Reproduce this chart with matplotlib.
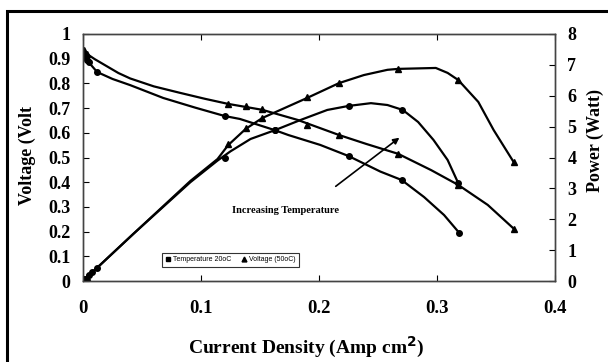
import numpy as np
import matplotlib
matplotlib.use("Agg")
import matplotlib.pyplot as plt
from matplotlib.patches import Rectangle

# voltage 20oC - traced line and data points
v20_line_x = [0.0, 0.004, 0.012, 0.025, 0.04, 0.068, 0.095, 0.12, 0.133, 0.163, 0.174, 0.201, 0.225, 0.252, 0.27, 0.289, 0.306, 0.319]
v20_line_y = [0.91, 0.89, 0.846, 0.818, 0.793, 0.741, 0.702, 0.668, 0.656, 0.61, 0.591, 0.551, 0.506, 0.443, 0.409, 0.34, 0.267, 0.194]
v20_x = [0.001, 0.003, 0.005, 0.012, 0.12, 0.163, 0.225, 0.27, 0.319]
v20_y = [0.91, 0.895, 0.885, 0.846, 0.668, 0.61, 0.506, 0.409, 0.194]

# voltage 50oC
v50_line_x = [0.0, 0.01, 0.02, 0.03, 0.04, 0.06, 0.082, 0.103, 0.123, 0.152, 0.182, 0.217, 0.24, 0.267, 0.295, 0.318, 0.343, 0.365]
v50_line_y = [0.93, 0.898, 0.87, 0.842, 0.82, 0.788, 0.762, 0.738, 0.717, 0.693, 0.652, 0.591, 0.555, 0.515, 0.449, 0.389, 0.308, 0.212]
v50_x = [0.001, 0.003, 0.123, 0.138, 0.152, 0.19, 0.217, 0.267, 0.318, 0.365]
v50_y = [0.935, 0.92, 0.717, 0.708, 0.695, 0.632, 0.591, 0.515, 0.39, 0.212]

# power 20oC
p20_line_x = [0.0, 0.0425, 0.091, 0.114, 0.125, 0.142, 0.163, 0.184, 0.207, 0.225, 0.244, 0.258, 0.271, 0.284, 0.297, 0.309, 0.318]
p20_line_y = [0.0, 1.52, 3.2, 3.9, 4.2, 4.6, 4.89, 5.21, 5.54, 5.67, 5.76, 5.70, 5.54, 5.15, 4.57, 3.92, 3.17]
p20_x = [0.002, 0.005, 0.008, 0.012, 0.12, 0.163, 0.225, 0.27, 0.318]
p20_y = [0.08, 0.18, 0.28, 0.42, 4.0, 4.89, 5.67, 5.54, 3.17]

# power 50oC
p50_line_x = [0.0, 0.0425, 0.091, 0.114, 0.123, 0.138, 0.152, 0.19, 0.217, 0.238, 0.258, 0.267, 0.299, 0.309, 0.318, 0.335, 0.348, 0.365]
p50_line_y = [0.0, 1.52, 3.24, 3.95, 4.4, 4.93, 5.28, 5.93, 6.41, 6.67, 6.84, 6.87, 6.9, 6.74, 6.51, 5.8, 4.89, 3.85]
p50_x = [0.001, 0.003, 0.123, 0.138, 0.152, 0.19, 0.217, 0.267, 0.318, 0.365]
p50_y = [0.05, 0.12, 4.43, 4.95, 5.28, 5.95, 6.4, 6.87, 6.5, 3.85]

x_ticks = [0, 0.1, 0.2, 0.3, 0.4]
x_ticklabels = ["0", "0.1", "0.2", "0.3", "0.4"]
v_ticks = [0, 0.1, 0.2, 0.3, 0.4, 0.5, 0.6, 0.7, 0.8, 0.9, 1]
v_ticklabels = ["0", "0.1", "0.2", "0.3", "0.4", "0.5", "0.6", "0.7", "0.8", "0.9", "1"]
p_ticks = [0, 1, 2, 3, 4, 5, 6, 7, 8]

serif = "Liberation Serif"
sans = "Liberation Sans"

fig = plt.figure(figsize=(6.08, 3.62), dpi=100)
fig.patches.append(Rectangle((7 / 608, -0.2), 1.2, 1.2 - 11 / 362, transform=fig.transFigure,
                             fill=False, edgecolor="black", linewidth=2.2))

ax = fig.add_axes([83 / 608, 1 - 281 / 362, 472 / 608, 247 / 362])
ax2 = ax.twinx()

lw = 1.6
ax.plot(v20_line_x, v20_line_y, color="black", lw=lw)
ax.plot(v50_line_x, v50_line_y, color="black", lw=lw)
ax.plot(v20_x, v20_y, ls="none", marker="o", ms=4, color="black")
ax.plot(v50_x, v50_y, ls="none", marker="^", ms=4.5, color="black")

ax2.plot(p20_line_x, p20_line_y, color="black", lw=lw)
ax2.plot(p50_line_x, p50_line_y, color="black", lw=lw)
ax2.plot(p20_x, p20_y, ls="none", marker="o", ms=4, color="black")
ax2.plot(p50_x, p50_y, ls="none", marker="^", ms=4.5, color="black")

ax.set_xlim(0, 0.4)
ax.set_ylim(0, 1)
ax2.set_ylim(0, 8)

ax.set_xticks(x_ticks)
ax.set_xticklabels(x_ticklabels)
ax.set_yticks(v_ticks)
ax.set_yticklabels(v_ticklabels)
ax2.set_yticks(p_ticks)

ax.tick_params(axis="x", direction="in", length=4, top=True, pad=14, labelsize=13.5)
ax.tick_params(axis="y", direction="in", length=4, pad=9, labelsize=13)
ax2.tick_params(axis="y", direction="in", length=4, pad=9, labelsize=13)
for lab in ax.get_xticklabels() + ax.get_yticklabels() + ax2.get_yticklabels():
    lab.set_fontfamily(serif)
    lab.set_fontweight("bold")

for a in (ax, ax2):
    for s in a.spines.values():
        s.set_color("#444444")
        s.set_linewidth(1.0)

ax.set_xlabel("Current Density (Amp cm$^{\\mathbf{2}}$)", fontfamily=serif, fontweight="bold", fontsize=14)
ax.xaxis.label.set_verticalalignment("center")
ax.xaxis.set_label_coords((306 - 83) / 472, -(347 - 281) / 247)
ax.set_ylabel("Voltage (Volt", fontfamily=serif, fontweight="bold", fontsize=13)
ax.yaxis.label.set_verticalalignment("center")
ax.yaxis.set_label_coords(-(83 - 27) / 472, 0.51)
ax2.set_ylabel("Power (Watt)", fontfamily=serif, fontweight="bold", fontsize=13)
ax2.yaxis.label.set_verticalalignment("center")
ax2.yaxis.set_label_coords((595 - 83) / 472, 0.567)

ax.text(0.1265, 0.287, "Increasing Temperature", fontfamily=serif, fontweight="bold",
        fontsize=7.5, ha="left", va="center")
ax.annotate("", xy=(0.270, 0.587), xytext=(0.2123, 0.3765),
            arrowprops=dict(arrowstyle="-|>", color="black", lw=1.2, mutation_scale=9))

h1, = ax.plot([], [], ls="none", marker="s", ms=2.5, color="black")
h2, = ax.plot([], [], ls="none", marker="^", ms=3.5, color="black")
leg = ax.legend([h1, h2], ["Temperature 20oC", "Voltage (50oC)"], ncol=2,
                loc="lower left", bbox_to_anchor=(0.167, 0.057, 0.291, 0.077), mode="expand",
                prop={"family": sans, "size": 5}, frameon=True, fancybox=False,
                handlelength=0.8, handletextpad=0.3, columnspacing=1.5, borderpad=0.5,
                borderaxespad=0)
leg.get_frame().set_edgecolor("black")
leg.get_frame().set_linewidth(0.8)

fig.savefig("out.png", dpi=100)
